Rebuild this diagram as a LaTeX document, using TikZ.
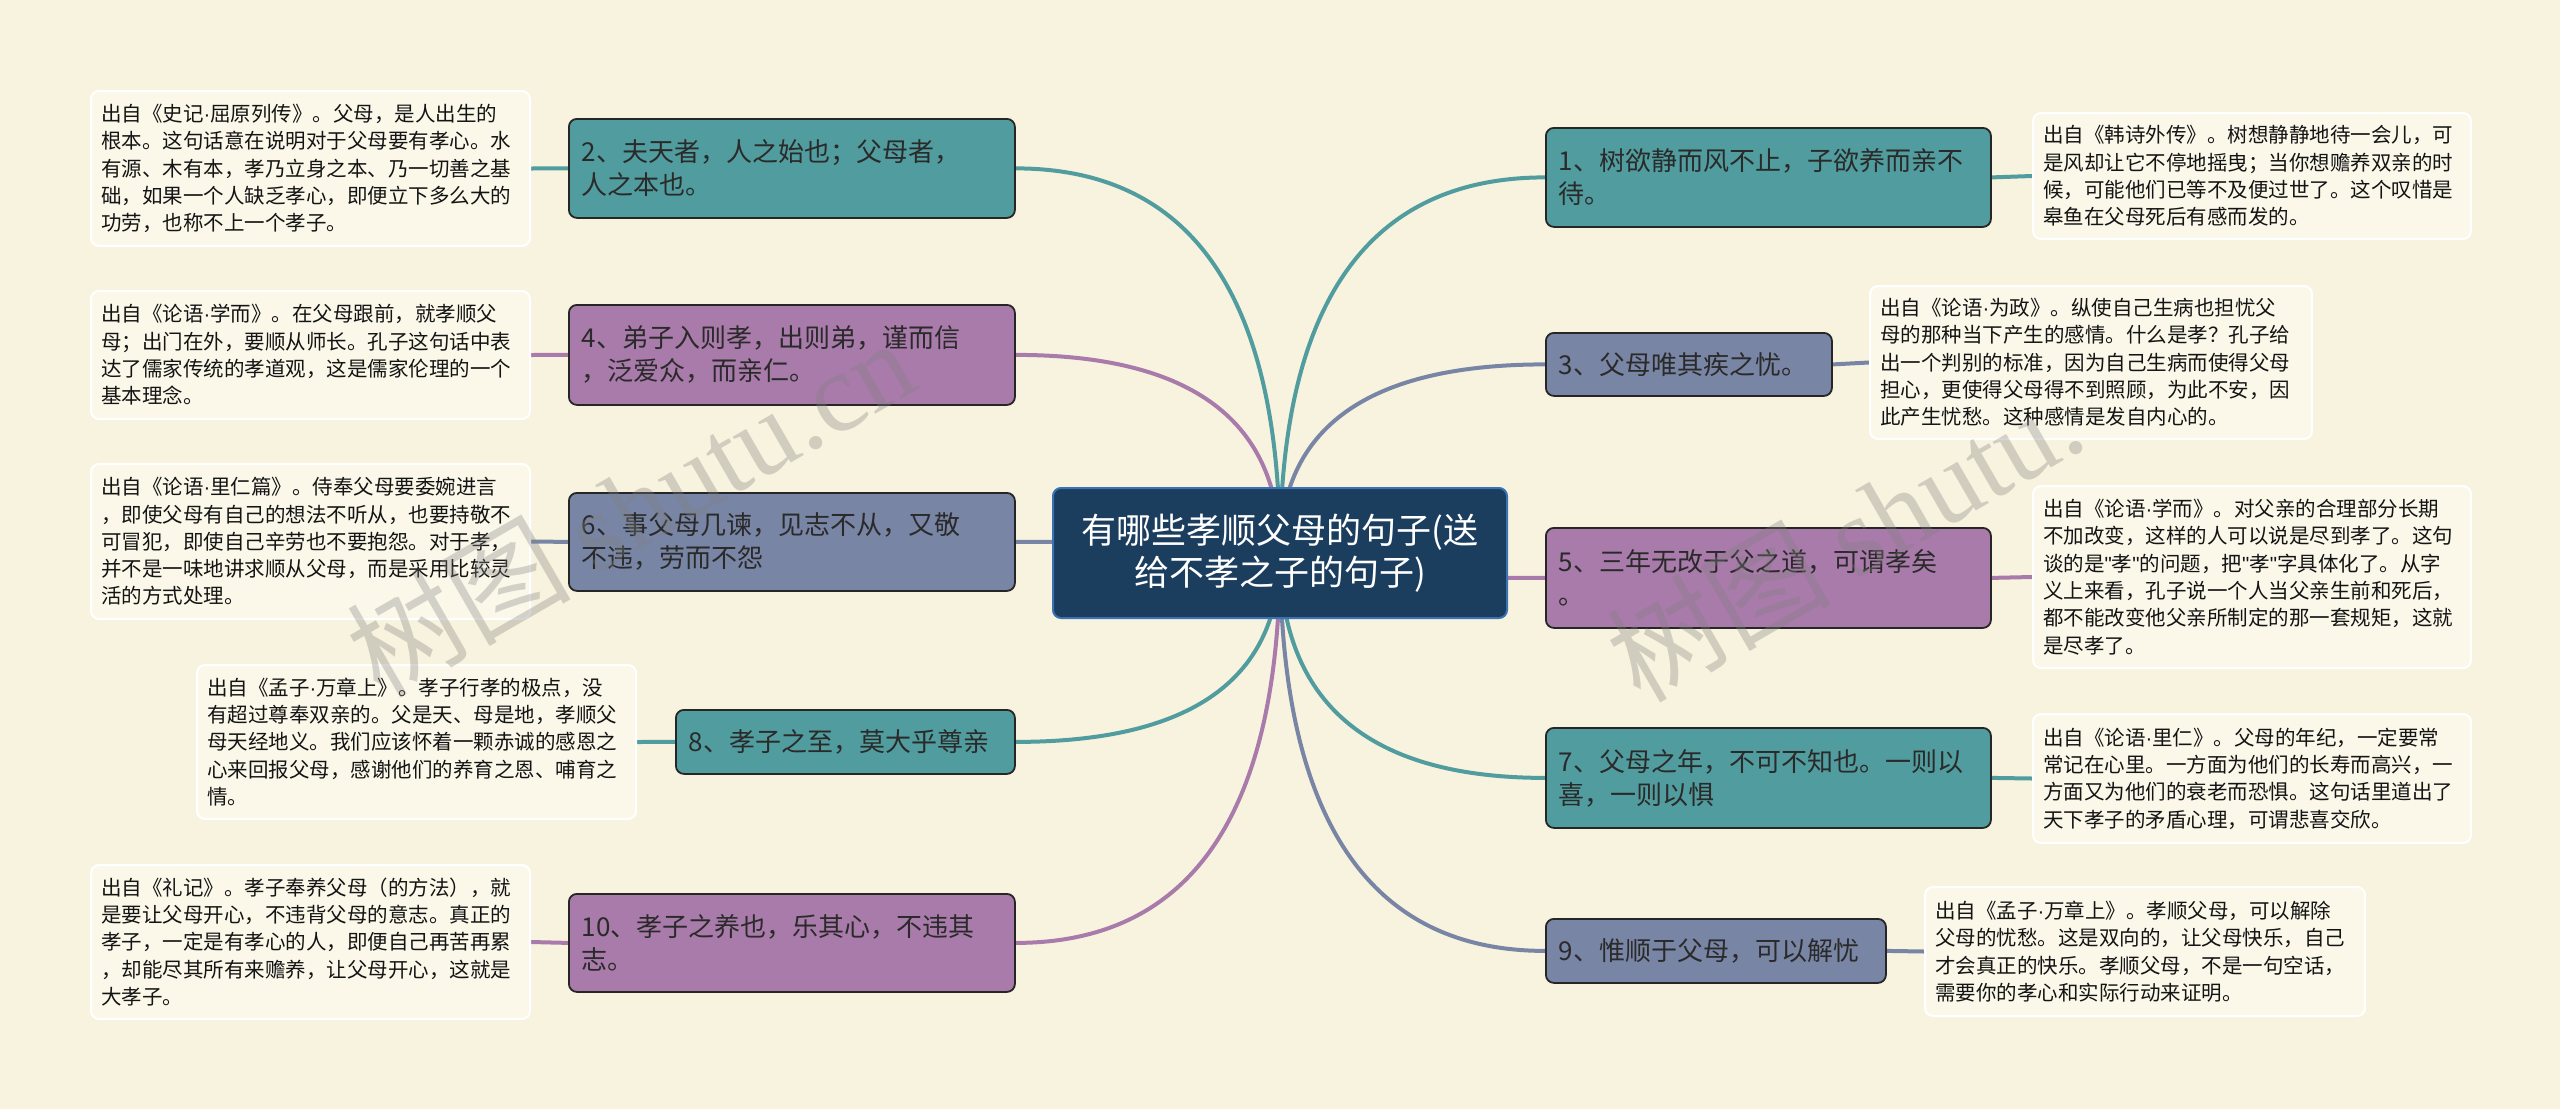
\documentclass[tikz,border=0pt]{standalone}
\usepackage{fontspec}
\setmainfont{Noto Sans CJK SC}
\newfontfamily\cjk{Noto Sans CJK SC}
\newfontfamily\latinf{Liberation Sans}
\newfontfamily\wmserif{Liberation Serif}
\newcommand\mdt{{\latinf ·}}
\newcommand\qmk{{\latinf "}}
\usetikzlibrary{calc}
\pgfdeclarelayer{back}
\pgfdeclarelayer{lines}
\pgfdeclarelayer{front}
\pgfsetlayers{back,lines,main,front}
\definecolor{bgc}{HTML}{F8F3DF}
\definecolor{notefill}{HTML}{FBF8EA}
\definecolor{tealc}{HTML}{519C9E}
\definecolor{purpc}{HTML}{A97BAA}
\definecolor{slatec}{HTML}{7885A5}
\definecolor{navy}{HTML}{1B3D5E}
\definecolor{navyedge}{HTML}{3A72B4}
\definecolor{textdark}{HTML}{2A2A2A}
\tikzset{
  rootbox/.style={fill=navy, draw=navyedge, line width=2pt, rounded corners=8pt,
    minimum width=454pt, minimum height=130pt, text width=430pt, inner sep=0pt,
    align=center, text=white, font=\cjk\fontsize{35}{42}\selectfont},
  topic/.style={draw=black!85, line width=1.8pt, rounded corners=8pt, inner xsep=13pt,
    inner ysep=0pt, anchor=north west, align=left, text=textdark,
    font=\cjk\fontsize{26}{33}\selectfont},
  note/.style={draw=white, line width=2pt, fill=notefill, rounded corners=8pt,
    inner xsep=10pt, inner ysep=0pt, anchor=north west, align=left, text=black!92,
    font=\cjk\fontsize{20.5}{27.3}\selectfont},
  link/.style={line width=4pt},
  wm/.style={text=black!50, opacity=0.33, inner sep=0pt, font=\cjk\fontsize{112}{112}\selectfont}
}
\begin{document}
\begin{tikzpicture}[x=1pt,y=-1pt]
\begin{pgfonlayer}{back}
\fill[bgc] (0,0) rectangle (2560,1109);
\end{pgfonlayer}
\useasboundingbox (0,0) rectangle (2560,1109);

% root
\node[rootbox] (c) at (1280,553) {有哪些孝顺父母的句子(送\\给不孝之子的句子)};

% topics
\node[topic, fill=tealc, text width=419pt, minimum height=99pt] (n1) at (1545,127) {1、树欲静而风不止，子欲养而亲不\\待。};
\node[topic, fill=tealc, text width=420pt, minimum height=99pt] (n2) at (568,118) {2、夫天者，人之始也；父母者，\\人之本也。};
\node[topic, fill=slatec, text width=260pt, minimum height=63pt] (n3) at (1545,332) {3、父母唯其疾之忧。};
\node[topic, fill=purpc, text width=420pt, minimum height=100pt] (n4) at (568,304) {4、弟子入则孝，出则弟，谨而信\\，泛爱众，而亲仁。};
\node[topic, fill=purpc, text width=419pt, minimum height=100pt] (n5) at (1545,527) {5、三年无改于父之道，可谓孝矣\\。};
\node[topic, fill=slatec, text width=420pt, minimum height=98pt] (n6) at (568,492) {6、事父母几谏，见志不从，又敬\\不违，劳而不怨};
\node[topic, fill=tealc, text width=419pt, minimum height=100pt] (n7) at (1545,727) {7、父母之年，不可不知也。一则以\\喜，一则以惧};
\node[topic, fill=tealc, text width=313pt, minimum height=64pt] (n8) at (675,709) {8、孝子之至，莫大乎尊亲};
\node[topic, fill=slatec, text width=314pt, minimum height=64pt] (n9) at (1545,918) {9、惟顺于父母，可以解忧};
\node[topic, fill=purpc, text width=420pt, minimum height=98pt] (n10) at (568,893) {10、孝子之养也，乐其心，不违其\\志。};

% notes
\node[note, text width=418pt, minimum height=126pt] (t1) at (2032,112) {出自《韩诗外传》。树想静静地待一会儿，可\\是风却让它不停地摇曳；当你想赡养双亲的时\\候，可能他们已等不及便过世了。这个叹惜是\\皋鱼在父母死后有感而发的。};
\node[note, text width=419pt, minimum height=155pt] (t2) at (90,90) {出自《史记\mdt 屈原列传》。父母，是人出生的\\根本。这句话意在说明对于父母要有孝心。水\\有源、木有本，孝乃立身之本、乃一切善之基\\础，如果一个人缺乏孝心，即便立下多么大的\\功劳，也称不上一个孝子。};
\node[note, text width=422pt, minimum height=153pt] (t3) at (1869,285) {出自《论语\mdt 为政》。纵使自己生病也担忧父\\母的那种当下产生的感情。什么是孝？孔子给\\出一个判别的标准，因为自己生病而使得父母\\担心，更使得父母得不到照顾，为此不安，因\\此产生忧愁。这种感情是发自内心的。};
\node[note, text width=419pt, minimum height=128pt] (t4) at (90,290) {出自《论语\mdt 学而》。在父母跟前，就孝顺父\\母；出门在外，要顺从师长。孔子这句话中表\\达了儒家传统的孝道观，这是儒家伦理的一个\\基本理念。};
\node[note, text width=418pt, minimum height=182pt] (t5) at (2032,485) {出自《论语\mdt 学而》。对父亲的合理部分长期\\不加改变，这样的人可以说是尽到孝了。这句\\谈的是\qmk 孝\qmk 的问题，把\qmk 孝\qmk 字具体化了。从字\\义上来看，孔子说一个人当父亲生前和死后，\\都不能改变他父亲所制定的那一套规矩，这就\\是尽孝了。};
\node[note, text width=419pt, minimum height=155pt] (t6) at (90,463) {出自《论语\mdt 里仁篇》。侍奉父母要委婉进言\\，即使父母有自己的想法不听从，也要持敬不\\可冒犯，即使自己辛劳也不要抱怨。对于孝，\\并不是一味地讲求顺从父母，而是采用比较灵\\活的方式处理。};
\node[note, text width=418pt, minimum height=129pt] (t7) at (2032,713) {出自《论语\mdt 里仁》。父母的年纪，一定要常\\常记在心里。一方面为他们的长寿而高兴，一\\方面又为他们的衰老而恐惧。这句话里道出了\\天下孝子的矛盾心理，可谓悲喜交欣。};
\node[note, text width=419pt, minimum height=154pt] (t8) at (196,664) {出自《孟子\mdt 万章上》。孝子行孝的极点，没\\有超过尊奉双亲的。父是天、母是地，孝顺父\\母天经地义。我们应该怀着一颗赤诚的感恩之\\心来回报父母，感谢他们的养育之恩、哺育之\\情。};
\node[note, text width=420pt, minimum height=129pt] (t9) at (1924,886) {出自《孟子\mdt 万章上》。孝顺父母，可以解除\\父母的忧愁。这是双向的，让父母快乐，自己\\才会真正的快乐。孝顺父母，不是一句空话，\\需要你的孝心和实际行动来证明。};
\node[note, text width=419pt, minimum height=154pt] (t10) at (90,864) {出自《礼记》。孝子奉养父母（的方法），就\\是要让父母开心，不违背父母的意志。真正的\\孝子，一定是有孝心的人，即便自己再苦再累\\，却能尽其所有来赡养，让父母开心，这就是\\大孝子。};

% connectors
\begin{pgfonlayer}{lines}
\foreach \nd/\an/\col in {n1/west/tealc, n2/east/tealc, n3/west/slatec, n4/east/purpc, n5/west/purpc, n6/east/slatec, n7/west/tealc, n8/east/tealc, n9/west/slatec, n10/east/purpc}{
  \path (c.center |- \nd.\an) coordinate (k\nd);
  \draw[link, draw=\col] (c.center) .. controls ($(c.center)!0.6667!(k\nd)$) and ($(\nd.\an)!0.6667!(k\nd)$) .. (\nd.\an);
}
\draw[link, draw=tealc] (n1.east) -- (t1.west);
\draw[link, draw=tealc] (n2.west) -- (t2.east);
\draw[link, draw=slatec] (n3.east) -- (t3.west);
\draw[link, draw=purpc] (n4.west) -- (t4.east);
\draw[link, draw=purpc] (n5.east) -- (t5.west);
\draw[link, draw=slatec] (n6.west) -- (t6.east);
\draw[link, draw=tealc] (n7.east) -- (t7.west);
\draw[link, draw=tealc] (n8.west) -- (t8.east);
\draw[link, draw=slatec] (n9.east) -- (t9.west);
\draw[link, draw=purpc] (n10.west) -- (t10.east);
\end{pgfonlayer}

% watermarks
\begin{pgfonlayer}{front}
\node[wm, rotate=30, anchor=base west] (w1) at (380,700) {树图 {\wmserif shutu.cn}};
\node[wm, rotate=30, anchor=base west] (w2) at (1640,705) {树图 {\wmserif shutu.}};
\end{pgfonlayer}
\end{tikzpicture}
\end{document}
